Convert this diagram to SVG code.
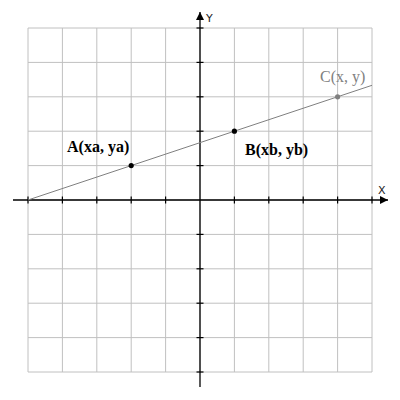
<svg xmlns="http://www.w3.org/2000/svg" width="400" height="400" viewBox="0 0 400 400">
<style>
.grid line{stroke:#c0c0c0;stroke-width:1}
.axis{stroke:#000;stroke-width:1.3}
.tick{stroke:#000;stroke-width:1.2}
.lbl{font-family:"Liberation Serif",serif;font-size:16px}
.ax{font-family:"DejaVu Sans","Liberation Sans",sans-serif;font-size:11px;fill:#222}
</style>
<defs>
<marker id="ah" viewBox="0 0 10 10" refX="10" refY="5" markerWidth="10" markerHeight="8" markerUnits="userSpaceOnUse" orient="auto">
<path d="M0,0 L10,5 L0,10 Z" fill="#000"/>
</marker>
</defs>
<rect width="400" height="400" fill="#fff"/>
<g class="grid">
<line x1="28" y1="28" x2="28" y2="372"/><line x1="62.4" y1="28" x2="62.4" y2="372"/><line x1="96.8" y1="28" x2="96.8" y2="372"/><line x1="131.2" y1="28" x2="131.2" y2="372"/><line x1="165.6" y1="28" x2="165.6" y2="372"/><line x1="200" y1="28" x2="200" y2="372"/><line x1="234.4" y1="28" x2="234.4" y2="372"/><line x1="268.8" y1="28" x2="268.8" y2="372"/><line x1="303.2" y1="28" x2="303.2" y2="372"/><line x1="337.6" y1="28" x2="337.6" y2="372"/><line x1="372" y1="28" x2="372" y2="372"/>
<line x1="28" y1="28" x2="372" y2="28"/><line x1="28" y1="62.4" x2="372" y2="62.4"/><line x1="28" y1="96.8" x2="372" y2="96.8"/><line x1="28" y1="131.2" x2="372" y2="131.2"/><line x1="28" y1="165.6" x2="372" y2="165.6"/><line x1="28" y1="200" x2="372" y2="200"/><line x1="28" y1="234.4" x2="372" y2="234.4"/><line x1="28" y1="268.8" x2="372" y2="268.8"/><line x1="28" y1="303.2" x2="372" y2="303.2"/><line x1="28" y1="337.6" x2="372" y2="337.6"/><line x1="28" y1="372" x2="372" y2="372"/>
</g>
<g id="axes">
<line class="axis" x1="13" y1="200" x2="388" y2="200" marker-end="url(#ah)"/>
<line class="axis" x1="200" y1="387" x2="200" y2="12" marker-end="url(#ah)"/>
<g class="tick">
<line x1="28" y1="196.5" x2="28" y2="203.5"/><line x1="62.4" y1="196.5" x2="62.4" y2="203.5"/><line x1="96.8" y1="196.5" x2="96.8" y2="203.5"/><line x1="131.2" y1="196.5" x2="131.2" y2="203.5"/><line x1="165.6" y1="196.5" x2="165.6" y2="203.5"/><line x1="234.4" y1="196.5" x2="234.4" y2="203.5"/><line x1="268.8" y1="196.5" x2="268.8" y2="203.5"/><line x1="303.2" y1="196.5" x2="303.2" y2="203.5"/><line x1="337.6" y1="196.5" x2="337.6" y2="203.5"/><line x1="372" y1="196.5" x2="372" y2="203.5"/>
<line x1="196.5" y1="28" x2="203.5" y2="28"/><line x1="196.5" y1="62.4" x2="203.5" y2="62.4"/><line x1="196.5" y1="96.8" x2="203.5" y2="96.8"/><line x1="196.5" y1="131.2" x2="203.5" y2="131.2"/><line x1="196.5" y1="165.6" x2="203.5" y2="165.6"/><line x1="196.5" y1="234.4" x2="203.5" y2="234.4"/><line x1="196.5" y1="268.8" x2="203.5" y2="268.8"/><line x1="196.5" y1="303.2" x2="203.5" y2="303.2"/><line x1="196.5" y1="337.6" x2="203.5" y2="337.6"/><line x1="196.5" y1="372" x2="203.5" y2="372"/>
</g>
<text class="ax" x="378" y="194">X</text>
<text class="ax" x="206" y="22">Y</text>
</g>
<g id="connectors">
<line x1="28" y1="200" x2="372" y2="85.3" stroke="#808080" stroke-width="1"/>
</g>
<g id="A">
<circle cx="131.2" cy="165.6" r="2.6" fill="#000"/>
<text class="lbl" x="67" y="152" font-weight="bold">A(xa, ya)</text>
</g>
<g id="B">
<circle cx="234.4" cy="131.2" r="2.6" fill="#000"/>
<text class="lbl" x="245" y="155" font-weight="bold">B(xb, yb)</text>
</g>
<g id="C">
<circle cx="337.6" cy="96.8" r="2.6" fill="#808080"/>
<text class="lbl" x="320" y="82" fill="#808080">C(x, y)</text>
</g>
</svg>
